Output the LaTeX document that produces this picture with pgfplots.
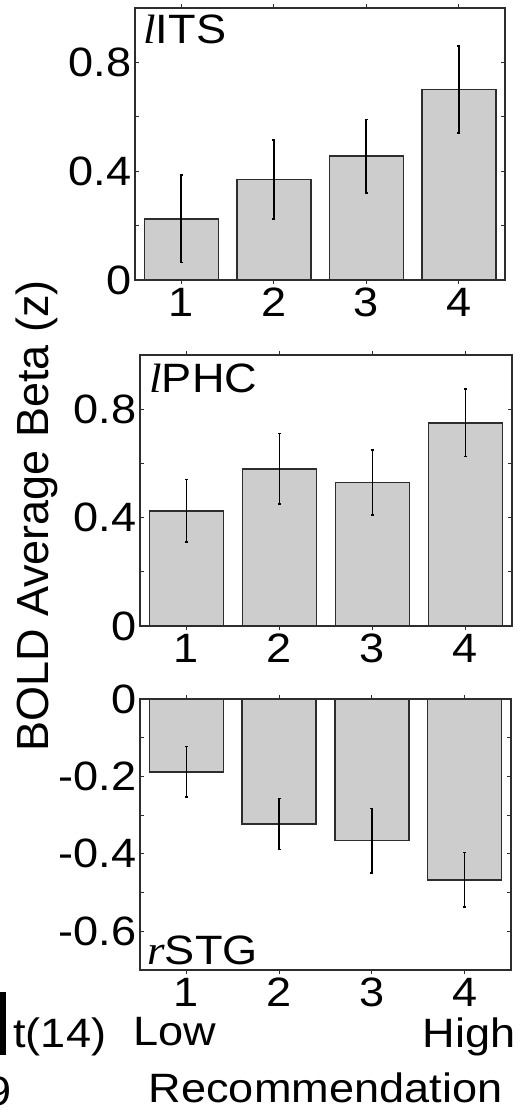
\documentclass[border=0pt]{standalone}
\usepackage{fontspec}
\setmainfont[FakeStretch=1.1]{Liberation Sans}
\newfontfamily\plainsans{Liberation Sans}
\newfontfamily\serifit[FakeStretch=1.1]{Liberation Serif}
\usepackage{pgfplots}
\pgfplotsset{compat=1.18}
\definecolor{barfill}{RGB}{205,205,205}
\definecolor{edge}{RGB}{45,45,45}
\newcommand{\fs}{\fontsize{20.5}{22}\selectfont}
\pgfplotsset{panel/.style={
  scale only axis, anchor=north west, clip=false,
  xmin=0.5, xmax=4.5, xtick={1,2,3,4}, xticklabels={1,2,3,4},
  tick align=inside, major tick length=1.8pt,
  axis line style={draw=edge, line width=0.8pt},
  every tick/.style={edge, line width=0.6pt},
  tick label style={font=\fs},
  yticklabel style={inner xsep=1.5pt},
  xticklabel style={inner ysep=2pt},
  ybar, bar width=0.8,
  axis on top,
},
 bars/.style={fill=barfill, draw=edge, line width=0.75pt,
  error bars/.cd, y dir=both, y explicit,
  error bar style={black, line width=0.8pt},
  error mark options={black, mark size=0.8pt, line width=0.8pt, rotate=90}},
}
\begin{document}
\begin{tikzpicture}[font=\fs]
\useasboundingbox (0,0) rectangle (261pt,-556pt);
% Panel 1: lITS
\begin{axis}[panel, at={(67.5pt,-4pt)}, width=185pt, height=136pt,
  ymin=0, ymax=1, ytick={0,0.2,0.4,0.6,0.8}, yticklabels={0,,0.4,,0.8}]
\addplot[bars] coordinates {(1,0.225) +- (0,0.16) (2,0.37) +- (0,0.145) (3,0.455) +- (0,0.135) (4,0.70) +- (0,0.16)};
\node[anchor=base west, inner sep=0, font=\fs] at (rel axis cs:0,1) [xshift=4pt, yshift=-18pt] {{\serifit\itshape l}ITS};
\end{axis}
% Panel 2: lPHC
\begin{axis}[panel, at={(70pt,-177.5pt)}, width=186pt, height=135.5pt,
  ymin=0, ymax=1, ytick={0,0.2,0.4,0.6,0.8}, yticklabels={0,,0.4,,0.8}]
\addplot[bars] coordinates {(1,0.425) +- (0,0.115) (2,0.58) +- (0,0.13) (3,0.53) +- (0,0.12) (4,0.75) +- (0,0.125)};
\node[anchor=base west, inner sep=0, font=\fs] at (rel axis cs:0,1) [xshift=4.5pt, yshift=-18.5pt] {{\serifit\itshape l}PHC};
\end{axis}
% Panel 3: rSTG
\begin{axis}[panel, at={(70pt,-349.5pt)}, width=185.5pt, height=135.5pt,
  ymin=-0.7, ymax=0, ytick={-0.6,-0.5,-0.4,-0.3,-0.2,-0.1,0}, yticklabels={-0.6,,-0.4,,-0.2,,0}]
\addplot[bars] coordinates {(1,-0.188) +- (0,0.065) (2,-0.323) +- (0,0.066) (3,-0.366) +- (0,0.083) (4,-0.467) +- (0,0.07)};
\node[anchor=base west, inner sep=0, font=\fs] at (rel axis cs:0,0) [xshift=3.5pt, yshift=2.5pt] {{\serifit\itshape r}STG};
\node[anchor=north west, inner sep=0, font=\fs] at (rel axis cs:0,0) [xshift=-3.5pt, yshift=-23.5pt] {Low};
\node[anchor=north east, inner sep=0, font=\fs] at (rel axis cs:1,0) [xshift=2.5pt, yshift=-23.5pt] {High};
\node[anchor=north, inner sep=0, font=\fs] at (rel axis cs:0.5,0) [yshift=-51pt] {Recommendation};
\end{axis}
% y label
\node[rotate=90, inner sep=0, font=\fontsize{22.5}{24}\plainsans] at (18.5pt,-258pt) {BOLD Average Beta (z)};
% fragments of neighbouring colour bar
\fill[black] (0pt,-496pt) rectangle (3pt,-527.5pt);
\node[anchor=base west, inner sep=0, font=\fs] at (6.5pt,-523.5pt) {t(14)};
\node[anchor=base east, inner sep=0, font=\fs] at (6pt,-552.5pt) {9};
\end{tikzpicture}
\end{document}
